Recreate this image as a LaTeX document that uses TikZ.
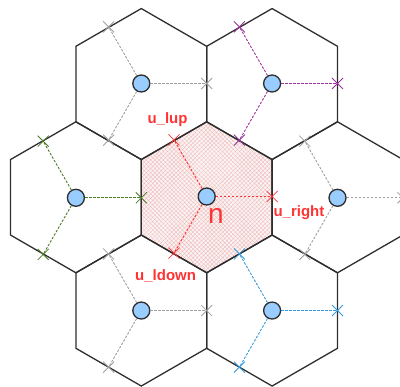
\documentclass[tikz,border=0pt]{standalone}
\usepackage{fontspec}
\setmainfont{Liberation Sans}
\usetikzlibrary{patterns.meta,calc}
\definecolor{hexborder}{HTML}{2E2E2E}
\definecolor{dotfill}{HTML}{99CCFF}
\definecolor{cgrey}{HTML}{A0A0A0}
\definecolor{cpurple}{HTML}{993399}
\definecolor{cgreen}{HTML}{4D7A26}
\definecolor{cred}{HTML}{FF3333}
\definecolor{cblue}{HTML}{3399DD}
\definecolor{hatchred}{HTML}{EDB9B9}
\definecolor{hatchbg}{HTML}{FBF2F2}
\tikzset{
  hexline/.style={draw=hexborder, line width=1.3pt, line join=miter},
  dot/.style={circle, minimum size=17pt, inner sep=0pt, fill=dotfill, draw=hexborder, line width=1.3pt},
  link/.style={dash pattern=on 2.5pt off 1.5pt, line width=0.9pt},
  xmk/.style={line width=0.8pt},
  lbl/.style={text=cred, inner sep=0pt, font=\fontsize{15}{15}\selectfont\bfseries}
}
\begin{document}
\begin{tikzpicture}[x=1pt,y=-1pt]
\useasboundingbox (0,0) rectangle (400,387);
% centre cell hatch
\fill[hatchbg] (206.7,197.3) +(30:75.5) -- +(90:75.5) -- +(150:75.5) -- +(210:75.5) -- +(270:75.5) -- +(330:75.5) -- cycle;
\fill[pattern={Hatch[angle=45,distance=3pt,line width=0.3pt]}, pattern color=hatchred] (206.7,197.3) +(30:75.5) -- +(90:75.5) -- +(150:75.5) -- +(210:75.5) -- +(270:75.5) -- +(330:75.5) -- cycle;
% cells
\foreach \x/\y in {141.3/84.05, 272.1/84.05, 75.9/197.3, 206.7/197.3, 337.5/197.3, 141.3/310.55, 272.1/310.55}{
  \draw[hexline] (\x,\y) +(30:75.5) -- +(90:75.5) -- +(150:75.5) -- +(210:75.5) -- +(270:75.5) -- +(330:75.5) -- cycle;
}
% points and links
\foreach \n/\x/\y/\c in {tl/141.3/83.5/cgrey, tr/272.1/83.5/cpurple, l/75.9/197.8/cgreen, c/206.7/196.5/cred, r/337.5/197.8/cgrey, bl/141.3/310.55/cgrey, br/272.1/310.55/cblue}{
  \node[dot] (\n) at (\x,\y) {};
  \coordinate (\n-e) at ($(\x,\y)+(65.4,0)$);
  \coordinate (\n-u) at ($(\x,\y)+(-32.7,-56.6)$);
  \coordinate (\n-d) at ($(\x,\y)+(-32.7,56.6)$);
  \draw[link, draw=\c] (\n) -- (\n-e);
  \draw[link, draw=\c] (\n) -- (\n-u);
  \draw[link, draw=\c] (\n) -- (\n-d);
  \foreach \p in {e,u,d}{
    \draw[xmk, draw=\c] (\n-\p) +(-5.5,-5.5) -- +(5.5,5.5) +(-5.5,5.5) -- +(5.5,-5.5);
  }
}
% labels
\node[lbl, anchor=base] (lup) at (167.5,123.5) {u\_lup};
\node[lbl, anchor=base west] (lright) at (273.3,216.7) {u\_right};
\node[lbl, anchor=base west] (ldown) at (135,281) {u\_ldown};
\node[text=cred, inner sep=0pt, anchor=base, font=\fontsize{28}{28}\selectfont] (nlbl) at (216,224) {n};
\end{tikzpicture}
\end{document}
